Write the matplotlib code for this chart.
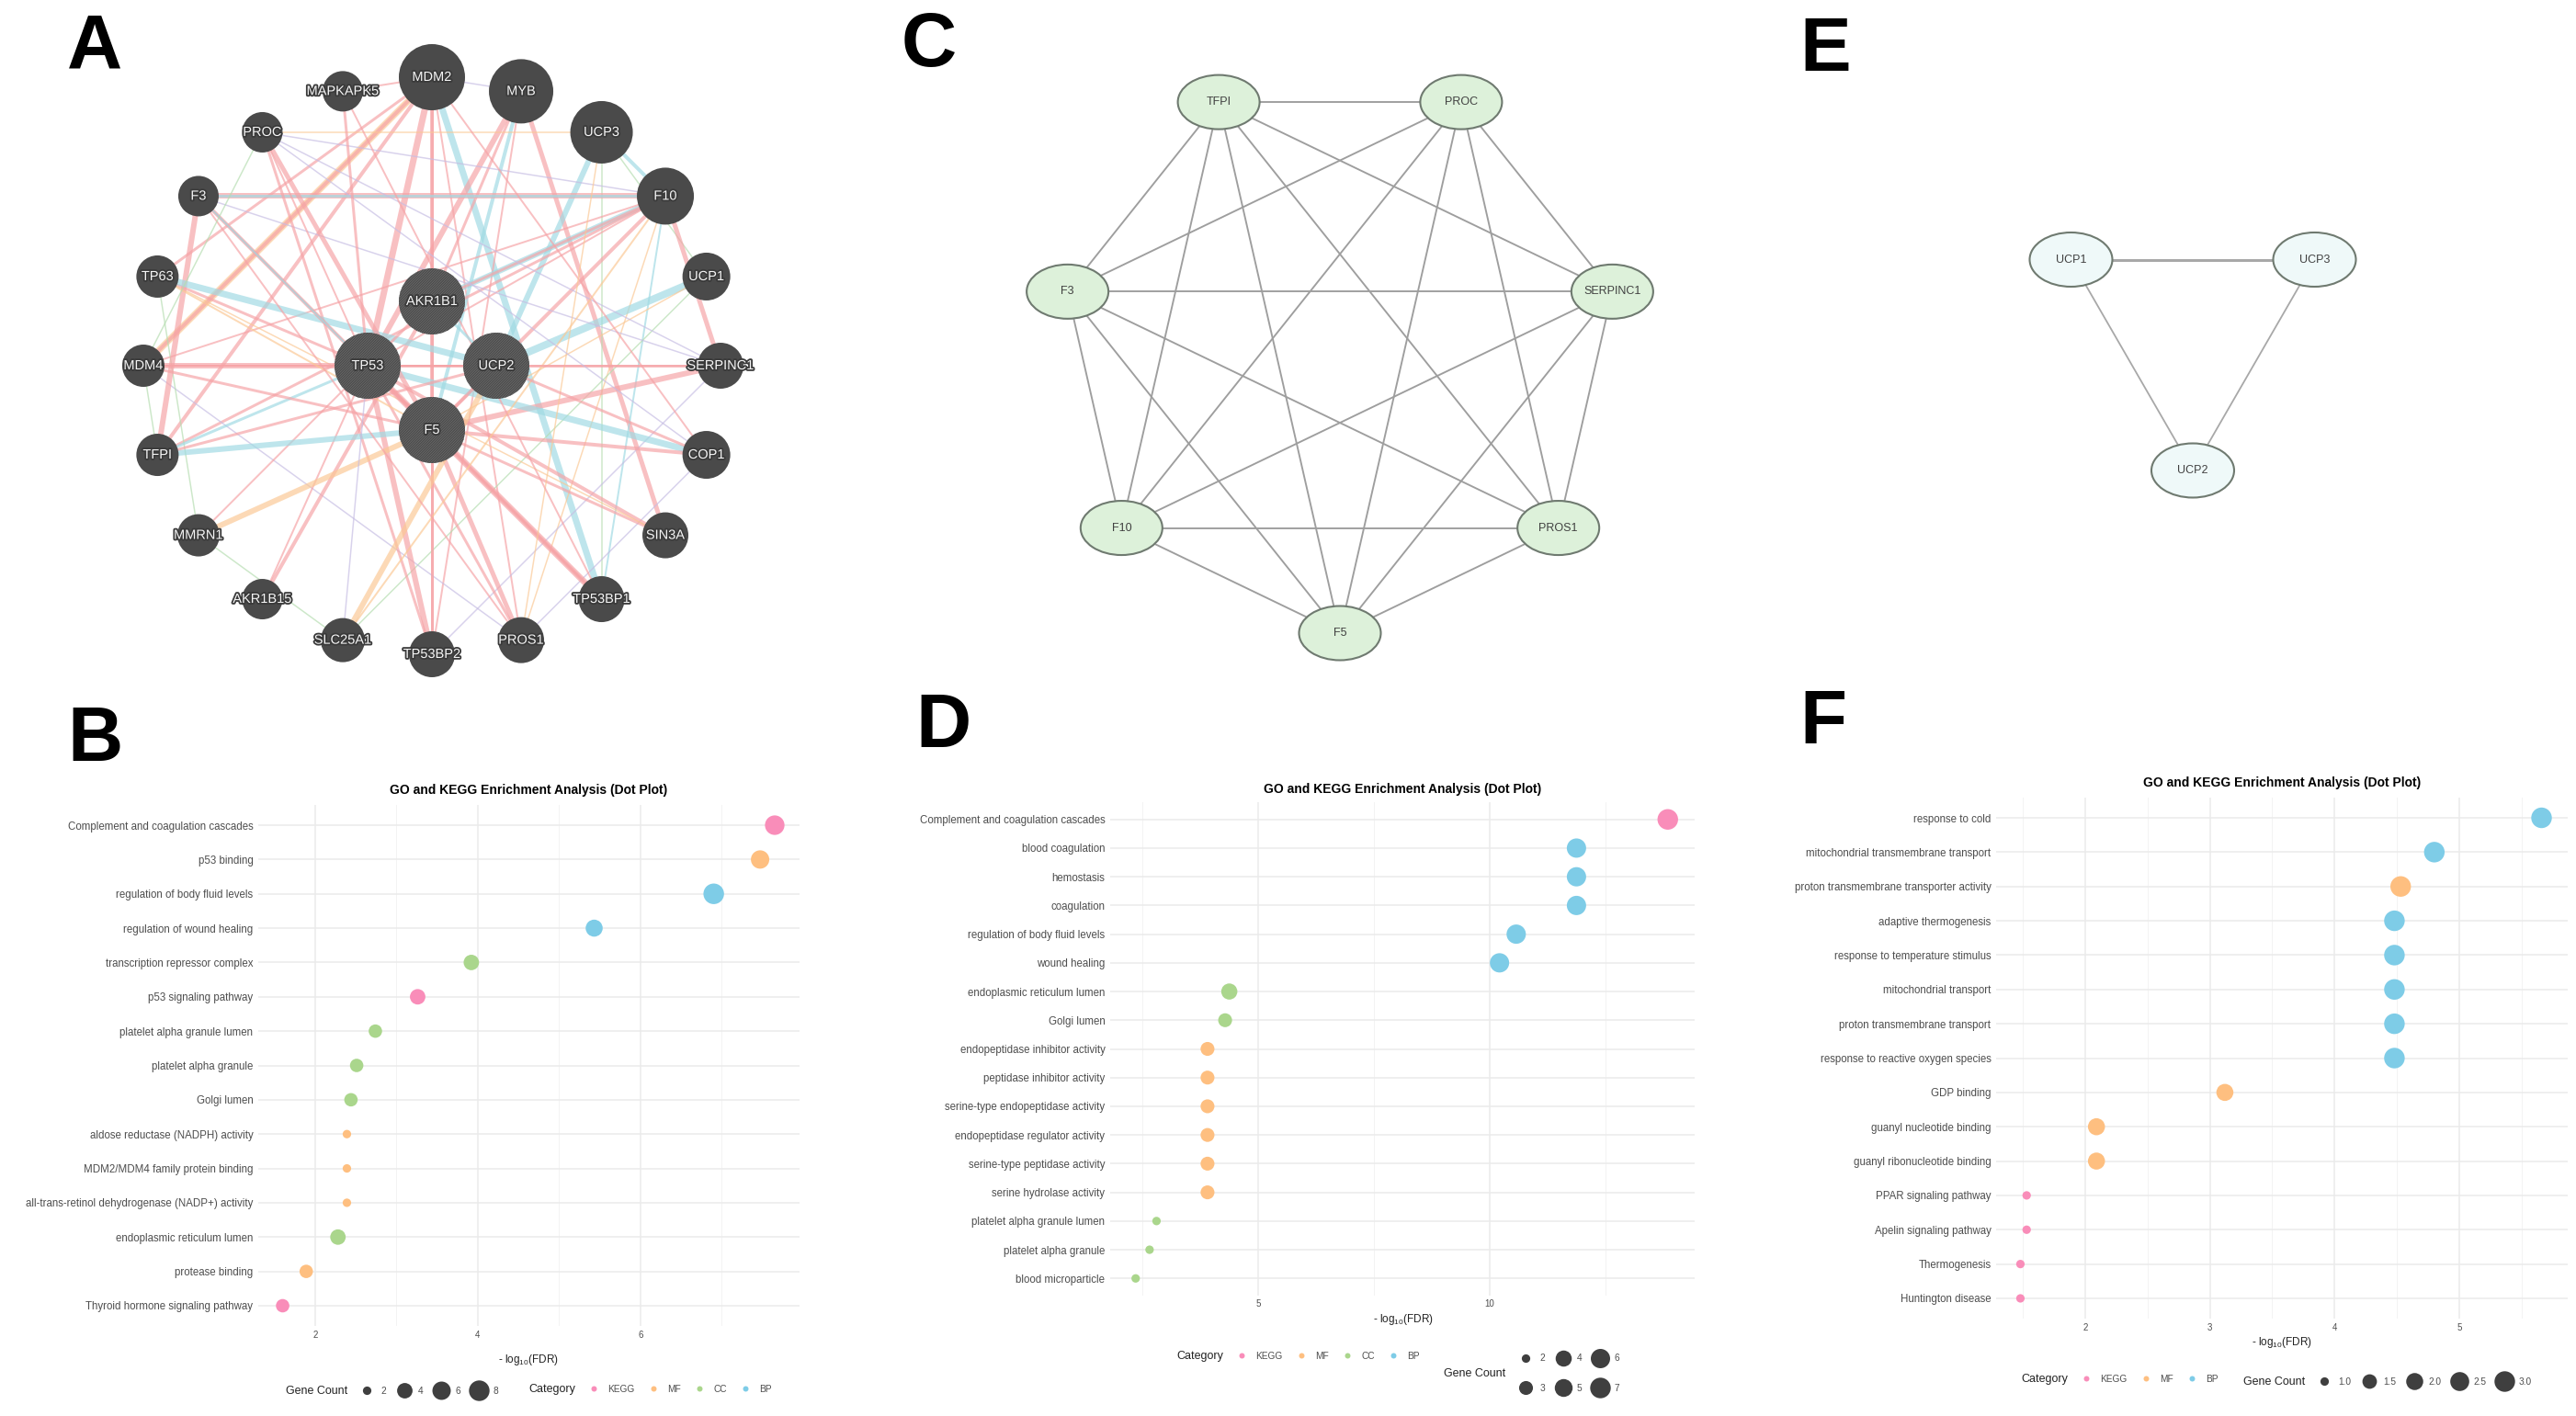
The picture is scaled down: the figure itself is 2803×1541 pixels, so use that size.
"""
Figura compuesta: redes PPI (A, C, E) y dot plots de enriquecimiento GO/KEGG (B, D, F).
"""

from itertools import combinations

import numpy as np
import matplotlib
matplotlib.use("Agg")
import matplotlib.pyplot as plt
from matplotlib.patches import Circle, Ellipse
from matplotlib.lines import Line2D
import matplotlib.patheffects as pe

W, H, DPI = 2803, 1541, 100

plt.rcParams["font.family"] = ["Liberation Sans", "DejaVu Sans"]
plt.rcParams["mathtext.default"] = "regular"
plt.rcParams["hatch.linewidth"] = 0.6

# ------------------------------------------------------------------
# Panel A: red GeneMANIA (anillo exterior en sentido horario desde arriba)
# ------------------------------------------------------------------
A_OUTER = ["MDM2", "MYB", "UCP3", "F10", "UCP1", "SERPINC1", "COP1", "SIN3A",
           "TP53BP1", "PROS1", "TP53BP2", "SLC25A1", "AKR1B15", "MMRN1",
           "TFPI", "MDM4", "TP63", "F3", "PROC", "MAPKAPK5"]
A_OUTER_SIZE = [36, 35, 34, 31, 26, 25, 26, 25, 25, 25, 25, 24, 22, 23,
                23, 23, 23, 22, 22, 22]
A_INNER = ["AKR1B1", "UCP2", "F5", "TP53"]   # arriba, derecha, abajo, izquierda
A_INNER_SIZE = [36, 36, 36, 36]

# (gen a, gen b, tipo de interacción, grosor px)
A_EDGES = [
    ("MDM2", "TP53", "co", 7), ("MDM2", "MDM4", "path", 7), ("MDM2", "MDM4", "co", 4),
    ("MDM2", "TFPI", "co", 4), ("MDM2", "F5", "co", 4), ("MDM2", "TP53BP2", "co", 3),
    ("MDM2", "TP63", "co", 3), ("MDM2", "TP53BP1", "phys", 7), ("MDM2", "MAPKAPK5", "co", 2),
    ("MDM2", "PROS1", "co", 2), ("MYB", "TP53", "co", 6), ("MYB", "F5", "phys", 4),
    ("MYB", "SIN3A", "co", 5), ("MYB", "MDM2", "pred", 1.5), ("MYB", "AKR1B1", "co", 3),
    ("MYB", "TP53BP2", "co", 2), ("UCP3", "UCP2", "phys", 6), ("UCP3", "F10", "phys", 4),
    ("UCP3", "TP53BP1", "gen", 1.5), ("UCP3", "UCP1", "gen", 1.5), ("UCP3", "PROC", "path", 1.5),
    ("F10", "F3", "co", 6), ("F10", "F3", "phys", 3), ("F10", "PROC", "pred", 1.5),
    ("F10", "AKR1B1", "phys", 6), ("F10", "AKR1B1", "co", 3), ("F10", "TFPI", "co", 3),
    ("F10", "SERPINC1", "co", 5), ("F10", "F5", "co", 4), ("F10", "TP53", "co", 2),
    ("F10", "PROS1", "path", 1.5), ("F10", "TP53BP1", "phys", 2), ("F10", "MDM4", "co", 2),
    ("UCP1", "UCP2", "phys", 8), ("UCP1", "F5", "path", 1.5), ("UCP1", "SLC25A1", "gen", 1.5),
    ("SERPINC1", "F5", "co", 6), ("SERPINC1", "TP53", "co", 3), ("SERPINC1", "PROC", "pred", 1.5),
    ("SERPINC1", "F3", "pred", 1.5), ("SERPINC1", "TP53BP2", "pred", 1.5),
    ("COP1", "TP53", "phys", 7), ("COP1", "F5", "co", 4), ("COP1", "MDM2", "co", 2),
    ("COP1", "PROS1", "pred", 1.5), ("SIN3A", "TP53", "co", 4), ("SIN3A", "F5", "co", 3),
    ("SIN3A", "TP63", "path", 1.5), ("TP53BP1", "TP53", "co", 7), ("TP53BP1", "F5", "co", 4),
    ("TP53BP1", "F3", "co", 2), ("PROS1", "F5", "co", 5), ("PROS1", "TP53", "co", 3),
    ("PROS1", "UCP3", "path", 1.5), ("PROS1", "MDM4", "pred", 1.5), ("TP53BP2", "TP53", "co", 6),
    ("TP53BP2", "F5", "co", 3), ("TP53BP2", "PROC", "co", 3), ("SLC25A1", "UCP2", "path", 6),
    ("SLC25A1", "MMRN1", "gen", 1.5), ("SLC25A1", "F10", "path", 2), ("AKR1B15", "AKR1B1", "co", 4),
    ("AKR1B15", "TP53", "co", 2), ("MMRN1", "F5", "path", 6), ("MMRN1", "TP53", "co", 2),
    ("MMRN1", "TP63", "gen", 1.5), ("TFPI", "F5", "phys", 6), ("TFPI", "TP53", "phys", 3),
    ("TFPI", "F3", "co", 6), ("TFPI", "MDM4", "gen", 1.5), ("MDM4", "TP53", "co", 6),
    ("MDM4", "F5", "co", 3), ("MDM4", "UCP2", "co", 2), ("MDM4", "SERPINC1", "co", 2),
    ("TP63", "TP53", "co", 3), ("TP63", "UCP2", "phys", 7), ("TP63", "F5", "path", 2),
    ("F3", "F5", "co", 4), ("F3", "TP53", "phys", 2), ("F3", "PROS1", "co", 2),
    ("PROC", "F5", "co", 5), ("PROC", "TP53", "co", 2), ("PROC", "MDM4", "gen", 1.5),
    ("PROC", "COP1", "pred", 1.5), ("MAPKAPK5", "TP53", "co", 3), ("MAPKAPK5", "TP53BP1", "co", 2),
    ("AKR1B1", "TP53", "co", 3), ("AKR1B1", "UCP2", "phys", 3), ("TP53", "F5", "co", 4),
    ("UCP2", "F5", "co", 3), ("UCP2", "COP1", "co", 3), ("UCP2", "TFPI", "co", 3),
    ("TP53", "SLC25A1", "pred", 1.5),
]
EDGE_COLORS = {"co": "#F6A3A6", "phys": "#9FDAE3", "path": "#FBC894",
               "gen": "#B5DDB0", "pred": "#C6BDE3"}

# ------------------------------------------------------------------
# Panel C: red STRING de coagulación (heptágono, desde abajo en sentido antihorario)
# ------------------------------------------------------------------
C_NODES = ["F5", "PROS1", "SERPINC1", "PROC", "TFPI", "F3", "F10"]
C_EDGES = list(combinations(C_NODES, 2))

# ------------------------------------------------------------------
# Panel E: red UCP
# ------------------------------------------------------------------
E_NODES = ["UCP2", "UCP3", "UCP1"]
E_EDGES = [("UCP1", "UCP3", 3.0), ("UCP1", "UCP2", 1.8), ("UCP3", "UCP2", 1.8)]

# ------------------------------------------------------------------
# Dot plots de enriquecimiento
# ------------------------------------------------------------------
B_TERMS = ["Complement and coagulation cascades", "p53 binding",
           "regulation of body fluid levels", "regulation of wound healing",
           "transcription repressor complex", "p53 signaling pathway",
           "platelet alpha granule lumen", "platelet alpha granule", "Golgi lumen",
           "aldose reductase (NADPH) activity", "MDM2/MDM4 family protein binding",
           "all-trans-retinol dehydrogenase (NADP+) activity",
           "endoplasmic reticulum lumen", "protease binding",
           "Thyroid hormone signaling pathway"]
B_VALUES = [7.65, 7.47, 6.90, 5.43, 3.92, 3.26, 2.74, 2.51, 2.44, 2.39, 2.39, 2.39,
            2.28, 1.89, 1.60]
B_CATS = ["KEGG", "MF", "BP", "BP", "CC", "KEGG", "CC", "CC", "CC", "MF", "MF", "MF",
          "CC", "MF", "KEGG"]
B_COUNTS = [7, 6, 8, 5, 4, 4, 3, 3, 3, 2, 2, 2, 4, 3, 3]

D_TERMS = ["Complement and coagulation cascades", "blood coagulation", "hemostasis",
           "coagulation", "regulation of body fluid levels", "wound healing",
           "endoplasmic reticulum lumen", "Golgi lumen",
           "endopeptidase inhibitor activity", "peptidase inhibitor activity",
           "serine-type endopeptidase activity", "endopeptidase regulator activity",
           "serine-type peptidase activity", "serine hydrolase activity",
           "platelet alpha granule lumen", "platelet alpha granule", "blood microparticle"]
D_VALUES = [13.84, 11.87, 11.87, 11.87, 10.57, 10.21, 4.38, 4.29, 3.91, 3.91, 3.91,
            3.91, 3.91, 3.91, 2.81, 2.66, 2.36]
D_CATS = ["KEGG", "BP", "BP", "BP", "BP", "BP", "CC", "CC", "MF", "MF", "MF", "MF",
          "MF", "MF", "CC", "CC", "CC"]
D_COUNTS = [7, 6, 6, 6, 6, 6, 4, 3, 3, 3, 3, 3, 3, 3, 2, 2, 2]

F_TERMS = ["response to cold", "mitochondrial transmembrane transport",
           "proton transmembrane transporter activity", "adaptive thermogenesis",
           "response to temperature stimulus", "mitochondrial transport",
           "proton transmembrane transport", "response to reactive oxygen species",
           "GDP binding", "guanyl nucleotide binding", "guanyl ribonucleotide binding",
           "PPAR signaling pathway", "Apelin signaling pathway", "Thermogenesis",
           "Huntington disease"]
F_VALUES = [5.66, 4.80, 4.53, 4.48, 4.48, 4.48, 4.48, 4.48, 3.12, 2.09, 2.09,
            1.53, 1.53, 1.48, 1.48]
F_CATS = ["BP", "BP", "MF", "BP", "BP", "BP", "BP", "BP", "MF", "MF", "MF",
          "KEGG", "KEGG", "KEGG", "KEGG"]
F_COUNTS = [3, 3, 3, 3, 3, 3, 3, 3, 2, 2, 2, 1, 1, 1, 1]

CAT_COLORS = {"KEGG": "#F98DB9", "MF": "#FEBF80", "CC": "#AAD68C", "BP": "#7ECCE7"}
GREY30 = "#4D4D4D"


def fx(x):
    return x / W


def fy(y):
    return 1 - y / H


def px_to_pt(px):
    return px * 72 / DPI


def radius_px(counts, cmin, cmax, rmin=4.6, rmax=11.2):
    """Escala de área tipo ggplot: radio lineal en sqrt del valor reescalado."""
    c = np.asarray(counts, dtype=float)
    return rmin + np.sqrt((c - cmin) / (cmax - cmin)) * (rmax - rmin)


def ring(center, radius, n, start_deg, step_deg):
    ang = np.deg2rad(start_deg + step_deg * np.arange(n))
    return center[0] + radius * np.cos(ang), center[1] - radius * np.sin(ang)


def draw_network_a(ax):
    xs, ys = ring((470, 398), 314, len(A_OUTER), 90, -18)
    xi, yi = ring((470, 398), 70, len(A_INNER), 90, -90)
    pos = {n: (x, y) for n, x, y in zip(A_OUTER, xs, ys)}
    pos.update({n: (x, y) for n, x, y in zip(A_INNER, xi, yi)})
    size = dict(zip(A_OUTER + A_INNER, A_OUTER_SIZE + A_INNER_SIZE))

    for a, b, kind, w in A_EDGES:
        (x0, y0), (x1, y1) = pos[a], pos[b]
        ax.plot([x0, x1], [y0, y1], color=EDGE_COLORS[kind], lw=px_to_pt(w),
                alpha=0.68, solid_capstyle="butt", zorder=1)

    stroke = [pe.withStroke(linewidth=2.6, foreground="#3A3A3A")]
    for n, (x, y) in pos.items():
        ax.add_patch(Circle((x, y), size[n], facecolor="#4A4A4A", edgecolor="none", zorder=3))
        if n in A_INNER:
            ax.add_patch(Circle((x, y), size[n], facecolor="none", edgecolor="#6A6A6A",
                                lw=0, hatch="/" * 12, zorder=4))
        ax.text(x, y, n, color="#F4F4F4", fontsize=10.5, ha="center", va="center",
                path_effects=stroke, zorder=5)


def draw_string_net(ax, nodes, pos, edges, fill, edge_col, ew, eh):
    for e in edges:
        a, b = e[0], e[1]
        w = e[2] if len(e) > 2 else 1.9
        (x0, y0), (x1, y1) = pos[a], pos[b]
        ax.plot([x0, x1], [y0, y1], color=edge_col, lw=px_to_pt(w), zorder=1)
    for n in nodes:
        x, y = pos[n]
        ax.add_patch(Ellipse((x, y), ew, eh, facecolor=fill, edgecolor="#6F7A70",
                             lw=1.5, zorder=3))
        ax.text(x, y, n, color="#404040", fontsize=9, ha="center", va="center", zorder=4)


def dot_panel(rect, terms, values, cats, counts, xlim, major, minor, crange):
    l, r, t, b = rect
    ax = fig.add_axes([fx(l), fy(b), (r - l) / W, (b - t) / H])
    y = np.arange(len(terms))
    rad = radius_px(counts, *crange)
    ax.scatter(values, y, s=(2 * px_to_pt(rad)) ** 2,
               c=[CAT_COLORS[c] for c in cats], linewidths=0, zorder=3)
    ax.set_yticks(y)
    ax.set_yticklabels(terms)
    ax.set_ylim(len(terms) - 0.4, -0.6)
    ax.set_xlim(xlim)
    ax.set_xticks(major)
    ax.set_xticks(minor, minor=True)
    ax.grid(which="major", color="#EBEBEB", lw=1.1, zorder=0)
    ax.grid(which="minor", axis="x", color="#F3F3F3", lw=0.7, zorder=0)
    ax.set_axisbelow(True)
    for s in ax.spines.values():
        s.set_visible(False)
    ax.tick_params(axis="both", which="both", length=0, colors=GREY30)
    ax.tick_params(axis="y", labelsize=8.3, pad=4)
    ax.tick_params(axis="x", labelsize=7, pad=3)
    return ax


def legends(cat_x, cat_y, cats, size_title_x, size_x, size_y, size_vals, size_labels,
            crange, ncol, title_y=None):
    fig.text(fx(cat_x), fy(cat_y), "Category", fontsize=9, color="#222222",
             ha="left", va="center")
    h_cat = [Line2D([], [], ls="none", marker="o", ms=4.3, mfc=CAT_COLORS[c], mec="none")
             for c in cats]
    fig.legend(h_cat, cats, loc="center left", bbox_to_anchor=(fx(cat_x + 66), fy(cat_y)),
               ncol=len(cats), frameon=False, fontsize=7.3, handlelength=1.0,
               handletextpad=1.0, columnspacing=1.5, borderpad=0, borderaxespad=0,
               labelcolor=GREY30)

    fig.text(fx(size_title_x), fy(size_y if title_y is None else title_y), "Gene Count",
             fontsize=9, color="#222222", ha="left", va="center")
    rad = radius_px(size_vals, *crange)
    h_size = [Line2D([], [], ls="none", marker="o", ms=2 * px_to_pt(rr), mfc="#3F3F3F",
                     mec="none") for rr in rad]
    fig.legend(h_size, size_labels, loc="center left",
               bbox_to_anchor=(fx(size_x - 5), fy(size_y)), ncol=ncol, frameon=False,
               fontsize=7.3, handlelength=1.0, handletextpad=1.0, columnspacing=1.45,
               labelspacing=2.2, borderpad=0, borderaxespad=0, labelcolor=GREY30)


fig = plt.figure(figsize=(W / DPI, H / DPI), dpi=DPI)

# Capa de redes en coordenadas de píxel
net = fig.add_axes([0, 0, 1, 1])
net.set_xlim(0, W)
net.set_ylim(H, 0)
net.axis("off")

draw_network_a(net)

cx, cy = ring((1458, 385), 304, len(C_NODES), -90, 360 / 7)
draw_string_net(net, C_NODES, {n: (x, y) for n, x, y in zip(C_NODES, cx, cy)},
                C_EDGES, "#DDF1DA", "#9E9E9E", 89, 59)

ex, ey = ring((2386, 359), 153, len(E_NODES), -90, 120)
draw_string_net(net, E_NODES, {n: (x, y) for n, x, y in zip(E_NODES, ex, ey)},
                E_EDGES, "#EFF9F9", "#A8A8A8", 90, 59)

# Dot plots
XLAB = "- log$_{10}$(FDR)"
TITLE = "GO and KEGG Enrichment Analysis (Dot Plot)"

dot_panel((281, 870, 875.6, 1443.4), B_TERMS, B_VALUES, B_CATS, B_COUNTS,
          (1.30, 7.955), [2, 4, 6], [3, 5, 7], (2, 8))
fig.text(fx(575), fy(860), TITLE, fontsize=10, fontweight="bold", ha="center", va="center")
fig.text(fx(575), fy(1480), XLAB, fontsize=8.5, color="#222222", ha="center", va="center")
legends(575, 1512, ["KEGG", "MF", "CC", "BP"], 311, 399, 1514, [2, 4, 6, 8],
        ["2", "4", "6", "8"], (2, 8), 4)

dot_panel((1208, 1844, 873, 1410), D_TERMS, D_VALUES, D_CATS, D_COUNTS,
          (1.81, 14.42), [5, 10], [2.5, 7.5, 12.5], (2, 7))
fig.text(fx(1526), fy(859), TITLE, fontsize=10, fontweight="bold", ha="center", va="center")
fig.text(fx(1527), fy(1436), XLAB, fontsize=8.5, color="#222222", ha="center", va="center")
legends(1280, 1476, ["KEGG", "MF", "CC", "BP"], 1571, 1660, 1494.5, [2, 3, 4, 5, 6, 7],
        ["2", "3", "4", "5", "6", "7"], (2, 7), 3, title_y=1495)

dot_panel((2172, 2794, 867.6, 1435.4), F_TERMS, F_VALUES, F_CATS, F_COUNTS,
          (1.285, 5.87), [2, 3, 4, 5], [1.5, 2.5, 3.5, 4.5, 5.5], (1, 3))
fig.text(fx(2483), fy(852), TITLE, fontsize=10, fontweight="bold", ha="center", va="center")
fig.text(fx(2483), fy(1461), XLAB, fontsize=8.5, color="#222222", ha="center", va="center")
legends(2199, 1501, ["KEGG", "MF", "BP"], 2441, 2529, 1504, [1.0, 1.5, 2.0, 2.5, 3.0],
        ["1.0", "1.5", "2.0", "2.5", "3.0"], (1, 3), 5)

# Letras de panel
for letter, x, y in [("A", 103, 52), ("C", 1011, 50), ("E", 1986, 55),
                     ("B", 103, 806), ("D", 1027, 791), ("F", 1984, 787)]:
    fig.text(fx(x), fy(y), letter, fontsize=60, fontweight="bold", ha="center", va="center")

fig.savefig("out.png", dpi=DPI)
plt.close(fig)
